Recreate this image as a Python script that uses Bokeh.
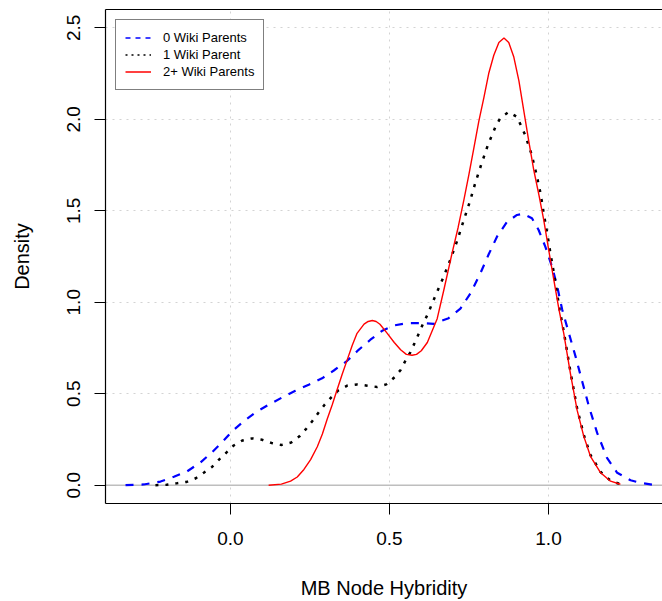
from bokeh.plotting import figure
from bokeh.models import (Range1d, FixedTicker, LinearAxis, Legend, LegendItem,
                          Span, PrintfTickFormatter)
from bokeh.embed import file_html
from bokeh.resources import INLINE

FONT = "Liberation Sans"
NAN = float("nan")

# ---- data ----
series_names = ["0 Wiki Parents", "1 Wiki Parent", "2+ Wiki Parents"]

x0 = [-0.33, -0.273, -0.22, -0.178, -0.136, -0.094, -0.058, -0.026, 0.005, 0.042,
      0.079, 0.12, 0.163, 0.204, 0.246, 0.288, 0.325, 0.367, 0.403, 0.44,
      0.477, 0.514, 0.556, 0.597, 0.639, 0.686, 0.723, 0.755, 0.786, 0.812,
      0.838, 0.87, 0.901, 0.92, 0.948, 0.969, 0.99, 1.011, 1.027, 1.043,
      1.064, 1.085, 1.106, 1.127, 1.153, 1.184, 1.216, 1.258, 1.289, 1.326]
y0 = [0.0, 0.004, 0.02, 0.046, 0.076, 0.125, 0.18, 0.235, 0.295, 0.35,
      0.398, 0.44, 0.48, 0.516, 0.549, 0.584, 0.627, 0.68, 0.74, 0.795,
      0.844, 0.873, 0.886, 0.886, 0.882, 0.913, 0.965, 1.05, 1.159, 1.262,
      1.358, 1.44, 1.477, 1.484, 1.459, 1.395, 1.304, 1.195, 1.09, 0.96,
      0.831, 0.704, 0.567, 0.431, 0.286, 0.149, 0.068, 0.027, 0.013, 0.003]

x1 = [-0.236, -0.201, -0.17, -0.138, -0.109, -0.084, -0.058, -0.036, -0.013, 0.01,
      0.037, 0.068, 0.1, 0.129, 0.16, 0.191, 0.217, 0.238, 0.257, 0.276,
      0.296, 0.317, 0.339, 0.367, 0.398, 0.43, 0.461, 0.49, 0.516, 0.535,
      0.55, 0.566, 0.579, 0.592, 0.605, 0.619, 0.643, 0.668, 0.692, 0.713,
      0.732, 0.752, 0.77, 0.789, 0.81, 0.834, 0.849, 0.875, 0.901, 0.926,
      0.946, 0.962, 0.975, 0.985, 0.996, 1.006, 1.017, 1.027, 1.035, 1.048,
      1.069, 1.09, 1.111, 1.132, 1.164, 1.195, 1.222]
y1 = [0.0, 0.002, 0.01, 0.018, 0.038, 0.068, 0.10, 0.14, 0.178, 0.217,
      0.244, 0.256, 0.248, 0.231, 0.22, 0.233, 0.267, 0.308, 0.35, 0.395,
      0.44, 0.48, 0.518, 0.544, 0.551, 0.544, 0.537, 0.551, 0.59, 0.63,
      0.68, 0.728, 0.777, 0.828, 0.88, 0.93, 1.03, 1.13, 1.235, 1.337,
      1.44, 1.546, 1.653, 1.755, 1.862, 1.962, 2.008, 2.04, 2.013, 1.917,
      1.813, 1.70, 1.595, 1.486, 1.377, 1.268, 1.159, 1.05, 0.96, 0.84,
      0.62, 0.42, 0.275, 0.165, 0.072, 0.025, 0.008]

x2 = [0.12, 0.16, 0.189, 0.21, 0.231, 0.252, 0.273, 0.289, 0.304, 0.32,
      0.335, 0.351, 0.367, 0.383, 0.398, 0.42, 0.433, 0.446, 0.458, 0.47,
      0.493, 0.515, 0.535, 0.553, 0.571, 0.585, 0.6, 0.619, 0.65, 0.67,
      0.697, 0.716, 0.734, 0.75, 0.765, 0.781, 0.797, 0.812, 0.828, 0.844,
      0.86, 0.875, 0.891, 0.907, 0.922, 0.938, 0.954, 0.97, 0.985, 1.006,
      1.033, 1.048, 1.069, 1.09, 1.111, 1.132, 1.164, 1.195, 1.226]
y2 = [0.0, 0.006, 0.022, 0.045, 0.086, 0.14, 0.21, 0.28, 0.36, 0.44,
      0.52, 0.605, 0.685, 0.765, 0.83, 0.88, 0.895, 0.90, 0.895, 0.88,
      0.83, 0.78, 0.74, 0.715, 0.71, 0.715, 0.735, 0.78, 0.91, 1.06,
      1.27, 1.41, 1.56, 1.70, 1.84, 1.99, 2.12, 2.25, 2.35, 2.42,
      2.444, 2.42, 2.34, 2.21, 2.05, 1.88, 1.72, 1.585, 1.45, 1.23,
      0.96, 0.83, 0.61, 0.41, 0.267, 0.158, 0.068, 0.022, 0.005]

x_ticks = [0.0, 0.5, 1.0]
y_ticks = [0.0, 0.5, 1.0, 1.5, 2.0, 2.5]

# ---- figure ----
p = figure(width=662, height=601,
           x_range=Range1d(-0.393, 1.3585), y_range=Range1d(-0.1, 2.6),
           output_backend="svg", toolbar_location=None,
           min_border_left=105, min_border_right=0,
           min_border_top=9, min_border_bottom=97)
p.outline_line_color = None
p.background_fill_color = "white"
p.border_fill_color = "white"

# grid
p.xgrid.ticker = FixedTicker(ticks=x_ticks)
p.ygrid.ticker = FixedTicker(ticks=y_ticks)
for g in (p.xgrid, p.ygrid):
    g.grid_line_color = "#D3D3D3"
    g.grid_line_dash = "2 5"
    g.grid_line_width = 1

zero = Span(location=0, dimension="width", line_color="#BEBEBE", line_width=1.5,
            level="underlay")
p.add_layout(zero)

# axes
xa = p.xaxis[0]
xa.ticker = FixedTicker(ticks=x_ticks)
xa.formatter = PrintfTickFormatter(format="%.1f")
ya = p.yaxis[0]
ya.ticker = FixedTicker(ticks=y_ticks)
ya.formatter = PrintfTickFormatter(format="%.1f")
ya.major_label_orientation = "vertical"
for ax in (xa, ya):
    ax.major_tick_out = 11
    ax.major_tick_in = 0
    ax.minor_tick_line_color = None
    ax.major_tick_line_color = "black"
    ax.axis_line_color = "black"
    ax.axis_line_width = 1.2
    ax.major_label_text_font = FONT
    ax.major_label_text_font_size = "19px"
    ax.major_label_text_color = "black"
    ax.axis_label_text_font = FONT
    ax.axis_label_text_font_size = "20px"
    ax.axis_label_text_font_style = "normal"
    ax.axis_label_text_color = "black"
xa.axis_label = "MB Node Hybridity"
ya.axis_label = "Density"
xa.major_label_standoff = 17
xa.axis_label_standoff = 29
ya.major_label_standoff = 14
ya.axis_label_standoff = 32

top = LinearAxis(ticker=FixedTicker(ticks=[]), major_tick_out=0, major_tick_in=0,
                 minor_tick_line_color=None, major_label_text_font_size="0px",
                 axis_line_color="black", axis_line_width=1.2)
p.add_layout(top, "above")

# curves
p.line(x0, y0, line_color="#0000FF", line_width=2.2, line_dash="8 8")
p.line(x1, y1, line_color="black", line_width=2.5, line_dash="3 7")
p.line(x2, y2, line_color="#FF0000", line_width=1.4)

# legend (legend-only renderers with the legend's own line styles; no visible data)
l0 = p.line(x=[NAN], y=[NAN], line_color="#0000FF", line_width=1.5, line_dash="5 5")
l1 = p.line(x=[NAN], y=[NAN], line_color="black", line_width=1.5, line_dash="2 4")
l2 = p.line(x=[NAN], y=[NAN], line_color="#FF0000", line_width=1.5)
legend = Legend(items=[LegendItem(label=series_names[0], renderers=[l0]),
                       LegendItem(label=series_names[1], renderers=[l1]),
                       LegendItem(label=series_names[2], renderers=[l2])],
                location="top_left", margin=10, padding=9, spacing=0,
                glyph_width=26, glyph_height=17, label_height=17,
                label_standoff=12, label_text_font=FONT,
                label_text_font_size="13px", label_text_color="black",
                border_line_color="black", border_line_width=1,
                background_fill_color="white", background_fill_alpha=1)
p.add_layout(legend)

open("out.html", "w").write(file_html(p, INLINE))
